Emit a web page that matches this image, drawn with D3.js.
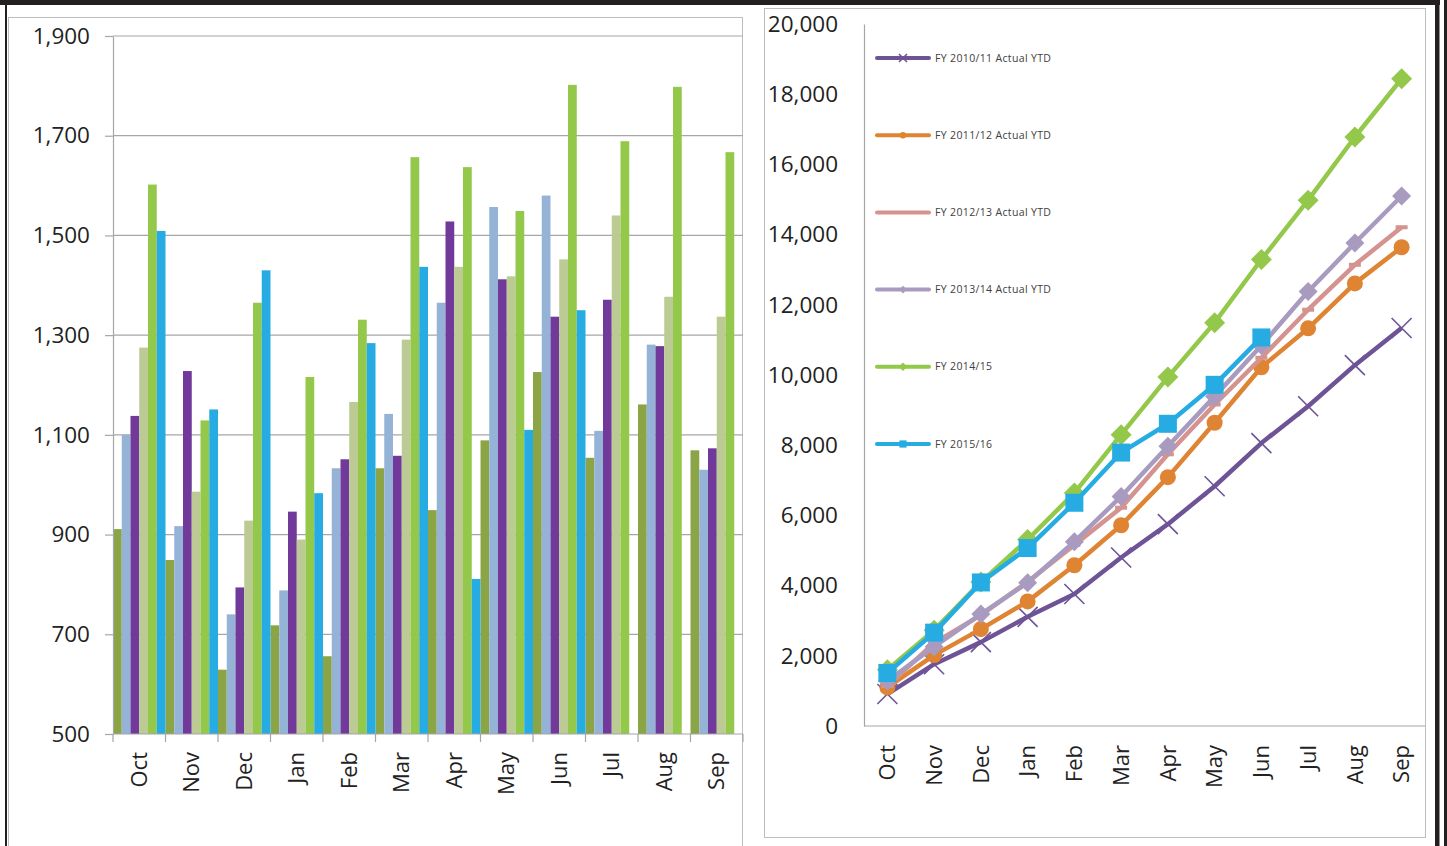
<!DOCTYPE html>
<html>
<head>
<meta charset="utf-8">
<script src="https://cdn.jsdelivr.net/npm/d3@7"></script>
<style>
  body { margin: 0; background: #fff; }
  text { font-family: "Open Sans", "DejaVu Sans", sans-serif; }
</style>
</head>
<body>
<div id="chart"></div>
<script>
// months of the financial year
const months = ["Oct", "Nov", "Dec", "Jan", "Feb", "Mar", "Apr", "May", "Jun", "Jul", "Aug", "Sep"];
const seriesNames = ["FY 2010/11 Actual YTD", "FY 2011/12 Actual YTD", "FY 2012/13 Actual YTD",
                     "FY 2013/14 Actual YTD", "FY 2014/15", "FY 2015/16"];

// monthly figures (left chart)
const monthly1011 = [911, 849, 629, 718, 656, 1033, 949, 1089, 1226, 1054, 1161, 1069];
const monthly1112 = [1100, 917, 740, 788, 1033, 1142, 1365, 1557, 1580, 1108, 1281, 1030];
const monthly1213 = [1138, 1228, 794, 946, 1051, 1058, 1528, 1412, 1337, 1371, 1278, 1073];
const monthly1314 = [1275, 986, 928, 890, 1166, 1291, 1437, 1418, 1452, 1540, 1377, 1337];
const monthly1415 = [1602, 1129, 1365, 1216, 1331, 1657, 1637, 1549, 1802, 1689, 1798, 1667];
const monthly1516 = [1509, 1151, 1430, 983, 1284, 1437, 811, 1110, 1350];

// year to date figures (right chart)
const ytd1011 = [910, 1760, 2390, 3110, 3760, 4800, 5750, 6830, 8060, 9110, 10280, 11340];
const ytd1112 = [1100, 2020, 2760, 3550, 4580, 5720, 7090, 8640, 10220, 11330, 12610, 13640];
const ytd1213 = [1140, 2370, 3160, 4110, 5160, 6220, 7740, 9160, 10490, 11860, 13140, 14210];
const ytd1314 = [1280, 2260, 3190, 4080, 5250, 6540, 7970, 9390, 10840, 12380, 13760, 15100];
const ytd1415 = [1600, 2730, 4100, 5310, 6640, 8300, 9940, 11490, 13290, 14980, 16780, 18440];
const ytd1516 = [1510, 2660, 4090, 5070, 6360, 7790, 8610, 9720, 11070];

const leftTicks = [500, 700, 900, 1100, 1300, 1500, 1700, 1900];
const rightTicks = [0, 2000, 4000, 6000, 8000, 10000, 12000, 14000, 16000, 18000, 20000];

const barColors = ["#8BA546", "#95B3D7", "#70399A", "#BBCB93", "#93C84B", "#26ACE2"];
const lineColors = ["#6E5496", "#DE8432", "#D5938F", "#A99BBF", "#93C84B", "#26ACE2"];
const markers = ["x", "circle", "dash", "diamond", "diamondBig", "square"];

const monthlyAll = [monthly1011, monthly1112, monthly1213, monthly1314, monthly1415, monthly1516];
const ytdAll = [ytd1011, ytd1112, ytd1213, ytd1314, ytd1415, ytd1516];

const width = 1447, height = 846;
const svg = d3.select("#chart").append("svg")
  .attr("width", width).attr("height", height);

svg.append("rect").attr("width", width).attr("height", height).attr("fill", "#fff");

// panel borders
svg.append("rect").attr("x", 8.5).attr("y", 17.5).attr("width", 734).attr("height", 900)
  .attr("fill", "none").attr("stroke", "#BDBDBD");
svg.append("rect").attr("x", 764.5).attr("y", 8.5).attr("width", 661).attr("height", 829)
  .attr("fill", "none").attr("stroke", "#BDBDBD");

// ---------- left chart : monthly bars ----------
const xL = d3.scaleBand().domain(months).range([113, 743]).padding(0);
const xSub = d3.scaleBand().domain(d3.range(6)).range([0, xL.bandwidth()]).padding(0);
const yL = d3.scaleLinear().domain([500, 1900]).range([734, 36]);

// gridlines
svg.append("g").selectAll("line")
  .data(leftTicks.slice(1))
  .join("line")
  .attr("x1", 113).attr("x2", 743)
  .attr("y1", d => yL(d)).attr("y2", d => yL(d))
  .attr("stroke", "#A6A6A6").attr("stroke-width", 1.2);

// bars
monthlyAll.forEach((vals, s) => {
  svg.append("g")
    .selectAll("rect")
    .data(vals)
    .join("rect")
    .attr("x", (d, i) => xL(months[i]) + xSub(s))
    .attr("width", xSub.bandwidth())
    .attr("y", d => yL(d))
    .attr("height", d => yL(500) - yL(d))
    .attr("fill", barColors[s]);
});

// y axis
const axL = svg.append("g")
  .attr("transform", "translate(113,0)")
  .call(d3.axisLeft(yL).tickValues(leftTicks).tickSize(8).tickSizeOuter(0)
    .tickPadding(15).tickFormat(d3.format(",")));
axL.selectAll("line, path").attr("stroke", "#A6A6A6").attr("stroke-width", 1.2);
axL.selectAll("text").attr("font-size", 22.5).attr("fill", "#222")
  .attr("font-family", "Open Sans");

// x axis line + boundary ticks
svg.append("line").attr("x1", 113).attr("x2", 743).attr("y1", 734).attr("y2", 734)
  .attr("stroke", "#A6A6A6").attr("stroke-width", 1.2);
svg.append("g").selectAll("line")
  .data(d3.range(months.length + 1))
  .join("line")
  .attr("x1", i => 113 + i * xL.step()).attr("x2", i => 113 + i * xL.step())
  .attr("y1", 734).attr("y2", 742)
  .attr("stroke", "#A6A6A6").attr("stroke-width", 1.2);

svg.append("g").selectAll("text")
  .data(months)
  .join("text")
  .attr("transform", d => `translate(${xL(d) + xL.bandwidth() / 2},752) rotate(-90)`)
  .attr("text-anchor", "end")
  .attr("dy", "0.35em")
  .attr("font-size", 22)
  .attr("fill", "#222")
  .text(d => d);

// ---------- right chart : year to date lines ----------
const xR = d3.scaleBand().domain(months).range([864, 1425]).padding(0);
const cx = m => xR(m) + xR.bandwidth() / 2;
const yR = d3.scaleLinear().domain([0, 20000]).range([726, 24]);

const axR = svg.append("g")
  .attr("transform", "translate(864,0)")
  .call(d3.axisLeft(yR).tickValues(rightTicks).tickSize(0).tickSizeOuter(0)
    .tickPadding(26).tickFormat(d3.format(",")));
axR.select("path").attr("stroke", "#A6A6A6").attr("stroke-width", 1.2);
axR.selectAll("text").attr("font-size", 22.5).attr("fill", "#222")
  .attr("font-family", "Open Sans");

svg.append("line").attr("x1", 864).attr("x2", 1425).attr("y1", 726).attr("y2", 726)
  .attr("stroke", "#A6A6A6").attr("stroke-width", 1.2);

svg.append("g").selectAll("text")
  .data(months)
  .join("text")
  .attr("transform", d => `translate(${cx(d)},745) rotate(-90)`)
  .attr("text-anchor", "end")
  .attr("dy", "0.35em")
  .attr("font-size", 22)
  .attr("fill", "#222")
  .text(d => d);

function drawMarker(g, type, x, y, color, scale) {
  const k = scale || 1;
  if (type === "x") {
    const r = 10 * k;
    g.append("path")
      .attr("d", `M${x - r},${y - r}L${x + r},${y + r}M${x - r},${y + r}L${x + r},${y - r}`)
      .attr("stroke", color).attr("stroke-width", 1.6).attr("fill", "none");
  } else if (type === "circle") {
    g.append("circle").attr("cx", x).attr("cy", y).attr("r", 8 * k).attr("fill", color);
  } else if (type === "dash") {
    g.append("rect").attr("x", x - 6 * k).attr("y", y - 2 * k)
      .attr("width", 12 * k).attr("height", 4 * k).attr("fill", color);
  } else if (type === "diamond" || type === "diamondBig") {
    const r = (type === "diamond" ? 9.5 : 10.5) * k;
    g.append("path").attr("d", `M${x},${y - r}L${x + r},${y}L${x},${y + r}L${x - r},${y}Z`)
      .attr("fill", color);
  } else if (type === "square") {
    const r = 9 * k;
    g.append("rect").attr("x", x - r).attr("y", y - r)
      .attr("width", 2 * r).attr("height", 2 * r).attr("fill", color);
  }
}

const line = d3.line().x((d, i) => cx(months[i])).y(d => yR(d));

ytdAll.forEach((vals, s) => {
  const g = svg.append("g");
  g.append("path")
    .datum(vals)
    .attr("d", line)
    .attr("fill", "none")
    .attr("stroke", lineColors[s])
    .attr("stroke-width", 4.5)
    .attr("stroke-linejoin", "round");
  vals.forEach((v, i) => drawMarker(g, markers[s], cx(months[i]), yR(v), lineColors[s]));
});

// legend
const legend = svg.append("g");
seriesNames.forEach((name, s) => {
  const y = 58 + s * 77.2;
  legend.append("line")
    .attr("x1", 877).attr("x2", 929).attr("y1", y).attr("y2", y)
    .attr("stroke", lineColors[s]).attr("stroke-width", 4).attr("stroke-linecap", "round");
  drawMarker(legend, markers[s], 903, y, lineColors[s], 0.4);
  legend.append("text")
    .attr("x", 935).attr("y", y).attr("dy", "0.35em")
    .attr("font-size", 10.5).attr("letter-spacing", 0.35).attr("fill", "#404040")
    .text(name);
});

// outer black frame
svg.append("rect").attr("x", 0).attr("y", 0).attr("width", 1440).attr("height", 5).attr("fill", "#231F20");
svg.append("rect").attr("x", 5).attr("y", 0).attr("width", 2).attr("height", height).attr("fill", "#231F20");
svg.append("rect").attr("x", 1435).attr("y", 0).attr("width", 4.5).attr("height", height).attr("fill", "#231F20");
svg.append("rect").attr("x", 1444).attr("y", 0).attr("width", 3).attr("height", height).attr("fill", "#231F20");
</script>
</body>
</html>
